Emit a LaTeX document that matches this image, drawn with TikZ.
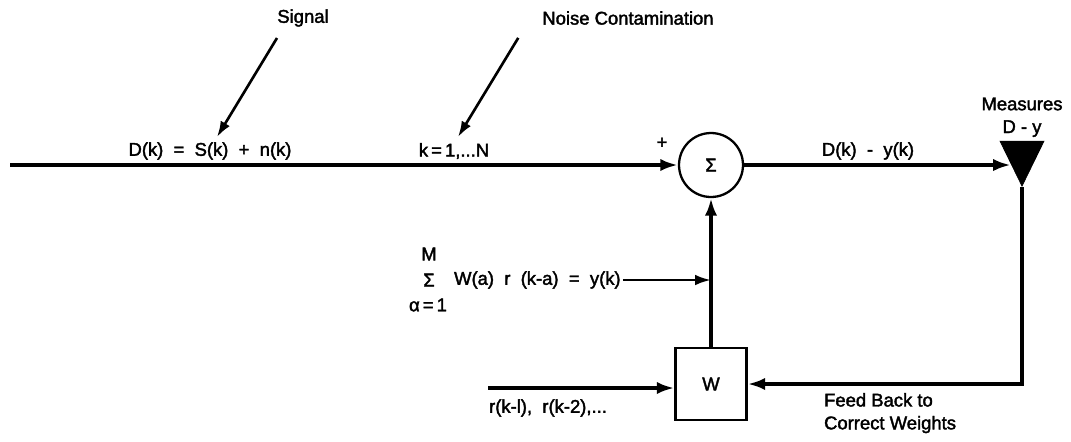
\documentclass[tikz,border=0pt]{standalone}
\usepackage{fontspec}
\setmainfont{Liberation Sans}[BoldFont=Liberation Sans, BoldFeatures={FakeBold=2}]
\usetikzlibrary{arrows.meta, positioning, shapes.geometric}

\begin{document}
\begin{tikzpicture}[
    x=0.02cm, y=-0.02cm,
    font=\fontsize{10.5}{13}\selectfont\bfseries,
    arrow/.style={line width=2.2pt, -{Latex[length=10pt, width=7pt]}},
    thinarrow/.style={line width=1.5pt, -{Latex[length=9pt, width=6pt]}},
    summer/.style={circle, draw, line width=1.3pt, minimum size=1.28cm, inner sep=0pt},
    weights/.style={rectangle, draw, line width=1.3pt, minimum width=1.42cm, minimum height=1.44cm},
    measure/.style={isosceles triangle, isosceles triangle stretches, shape border rotate=-90, fill=black, draw, inner sep=0pt, minimum width=0.88cm, minimum height=0.9cm},
    txt/.style={inner sep=1pt}
]
    \useasboundingbox (0,0) rectangle (1071,441);

    % blocks
    \node[summer] (sum) at (711,165) {Σ};
    \node[measure, anchor=apex] (meas) at (1022,187) {};
    \node[weights] (wbox) at (711,384) {W};

    % signal path
    \coordinate (start) at (10,165);
    \coordinate (rin) at (488,388);
    \draw[arrow] (start) -- (sum);
    \draw[arrow] (sum) -- (sum -| meas.right side);
    \draw[arrow] (meas.apex) |- (wbox.east);
    \draw[arrow] (wbox) -- (sum);
    \draw[arrow] (rin) -- (rin -| wbox.west);

    % labels on the lines
    \node[txt] (dks) at (210,151) {D(k) \ = \ S(k) \ + \ n(k)};
    \node[txt] (kn) at (454,151) {k\,=\,1,...N};
    \node[txt] (plus) at (662,143) {+};
    \node[txt] (dky) at (868,151) {D(k) \ - \ y(k)};
    \node[txt, align=center, above=1pt of meas] (measlbl) {Measures\\D - y};
    \node[txt, align=left, anchor=north west] (fb) at (822,391) {Feed Back to\\Correct Weights};
    \node[txt, anchor=west] (rlbl) at (487,408) {r(k-l), \ r(k-2),...};

    % pointers from above
    \node[txt] (sig) at (303,18) {Signal};
    \node[txt] (noise) at (628,18) {Noise Contamination};
    \coordinate (sigtip) at (217,137);
    \coordinate (noisetip) at (458,137);
    \draw[thinarrow] ([shift={(-26,20)}]sig.center) -- (sigtip);
    \draw[thinarrow] ([shift={(-22,11)}]noise.south west) -- (noisetip);

    % weighted sum
    \node[txt] (sigma) at (429,280) {Σ};
    \node[txt] (upper) at (429,254) {M};
    \node[txt] (lower) at (428,305) {α\,=\,1};
    \node[txt, anchor=west] (ysum) at (452,280) {W(a) \ r \ (k-a) \ = \ y(k)};
    \draw[thinarrow] (ysum) -- (ysum -| wbox);
\end{tikzpicture}
\end{document}
